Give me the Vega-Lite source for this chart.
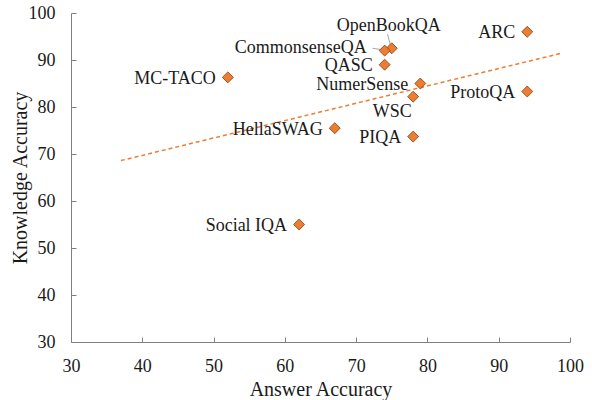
{
  "$schema": "https://vega.github.io/schema/vega-lite/v6.json",
  "width": 499,
  "height": 329,
  "autosize": "none",
  "padding": {"left": 71, "top": 13, "right": 22, "bottom": 58},
  "background": "white",
  "config": {
    "view": {"stroke": null},
    "font": "'Liberation Serif', serif",
    "axis": {
      "grid": false,
      "labelFlush": false,
      "domainColor": "#7f7f7f",
      "tickColor": "#7f7f7f",
      "tickSize": -5,
      "labelFont": "'Liberation Serif', serif",
      "titleFont": "'Liberation Serif', serif",
      "labelFontSize": 18,
      "titleFontSize": 20,
      "labelColor": "#1a1a1a",
      "titleColor": "#1a1a1a",
      "titleFontWeight": "normal"
    }
  },
  "datasets": {
    "pts": [
      {"task": "ARC", "answer": 94, "knowledge": 96},
      {"task": "OpenBookQA", "answer": 75, "knowledge": 92.5},
      {"task": "CommonsenseQA", "answer": 74, "knowledge": 92},
      {"task": "QASC", "answer": 74, "knowledge": 89},
      {"task": "MC-TACO", "answer": 52, "knowledge": 86.3},
      {"task": "NumerSense", "answer": 79, "knowledge": 85},
      {"task": "WSC", "answer": 78, "knowledge": 82.2},
      {"task": "ProtoQA", "answer": 94, "knowledge": 83.3},
      {"task": "HellaSWAG", "answer": 67, "knowledge": 75.5},
      {"task": "PIQA", "answer": 78, "knowledge": 73.7},
      {"task": "Social IQA", "answer": 62, "knowledge": 55}
    ],
    "trend": [
      {"answer": 37, "knowledge": 68.6},
      {"answer": 98.7, "knowledge": 91.4}
    ],
    "leaders": [
      {"task": "CommonsenseQA", "x1": 72.3, "y1": 92.5, "x2": 73.6, "y2": 92.2},
      {"task": "OpenBookQA", "x1": 74.4, "y1": 95.5, "x2": 74.8, "y2": 93.2}
    ]
  },
  "layer": [
    {
      "data": {"name": "trend"},
      "mark": {"type": "line", "color": "#ED7D31", "strokeWidth": 1.5, "strokeDash": [4, 3]},
      "encoding": {
        "x": {"field": "answer", "type": "quantitative", "scale": {"domain": [30, 100], "nice": false}, "axis": {"values": [30,40,50,60,70,80,90,100], "title": "Answer Accuracy", "labelPadding": 20, "titlePadding": 4}},
        "y": {"field": "knowledge", "type": "quantitative", "scale": {"domain": [30, 100], "nice": false}, "axis": {"values": [30,40,50,60,70,80,90,100], "title": "Knowledge Accuracy", "labelPadding": 21, "titlePadding": -2}}
      }
    },
    {
      "data": {"name": "leaders"},
      "mark": {"type": "rule", "color": "#a6a6a6", "strokeWidth": 1},
      "encoding": {
        "x": {"field": "x1", "type": "quantitative"},
        "y": {"field": "y1", "type": "quantitative"},
        "x2": {"field": "x2"},
        "y2": {"field": "y2"}
      }
    },
    {
      "data": {"name": "pts"},
      "mark": {"type": "point", "shape": "diamond", "filled": true, "size": 120, "fill": "#ED7D31", "stroke": "#843C0C", "strokeWidth": 0.8, "opacity": 1},
      "encoding": {
        "x": {"field": "answer", "type": "quantitative"},
        "y": {"field": "knowledge", "type": "quantitative"}
      }
    },
    {
      "data": {"name": "pts"},
      "transform": [{"filter": {"not": {"field": "task", "oneOf": ["OpenBookQA", "CommonsenseQA", "WSC"]}}}],
      "mark": {"type": "text", "align": "right", "baseline": "middle", "dx": -12, "dy": 1.5, "fontSize": 18, "font": "'Liberation Serif', serif", "color": "#1a1a1a"},
      "encoding": {
        "x": {"field": "answer", "type": "quantitative"},
        "y": {"field": "knowledge", "type": "quantitative"},
        "text": {"field": "task"}
      }
    },
    {
      "data": {"name": "pts"},
      "transform": [{"filter": {"field": "task", "equal": "CommonsenseQA"}}],
      "mark": {"type": "text", "align": "right", "baseline": "middle", "dx": -18, "dy": -2.5, "fontSize": 18, "font": "'Liberation Serif', serif", "color": "#1a1a1a"},
      "encoding": {
        "x": {"field": "answer", "type": "quantitative"},
        "y": {"field": "knowledge", "type": "quantitative"},
        "text": {"field": "task"}
      }
    },
    {
      "data": {"name": "pts"},
      "transform": [{"filter": {"field": "task", "equal": "OpenBookQA"}}],
      "mark": {"type": "text", "align": "center", "baseline": "middle", "dx": -3, "dy": -22, "fontSize": 18, "font": "'Liberation Serif', serif", "color": "#1a1a1a"},
      "encoding": {
        "x": {"field": "answer", "type": "quantitative"},
        "y": {"field": "knowledge", "type": "quantitative"},
        "text": {"field": "task"}
      }
    },
    {
      "data": {"name": "pts"},
      "transform": [{"filter": {"field": "task", "equal": "WSC"}}],
      "mark": {"type": "text", "align": "center", "baseline": "middle", "dx": -21, "dy": 15, "fontSize": 18, "font": "'Liberation Serif', serif", "color": "#1a1a1a"},
      "encoding": {
        "x": {"field": "answer", "type": "quantitative"},
        "y": {"field": "knowledge", "type": "quantitative"},
        "text": {"field": "task"}
      }
    }
  ]
}
